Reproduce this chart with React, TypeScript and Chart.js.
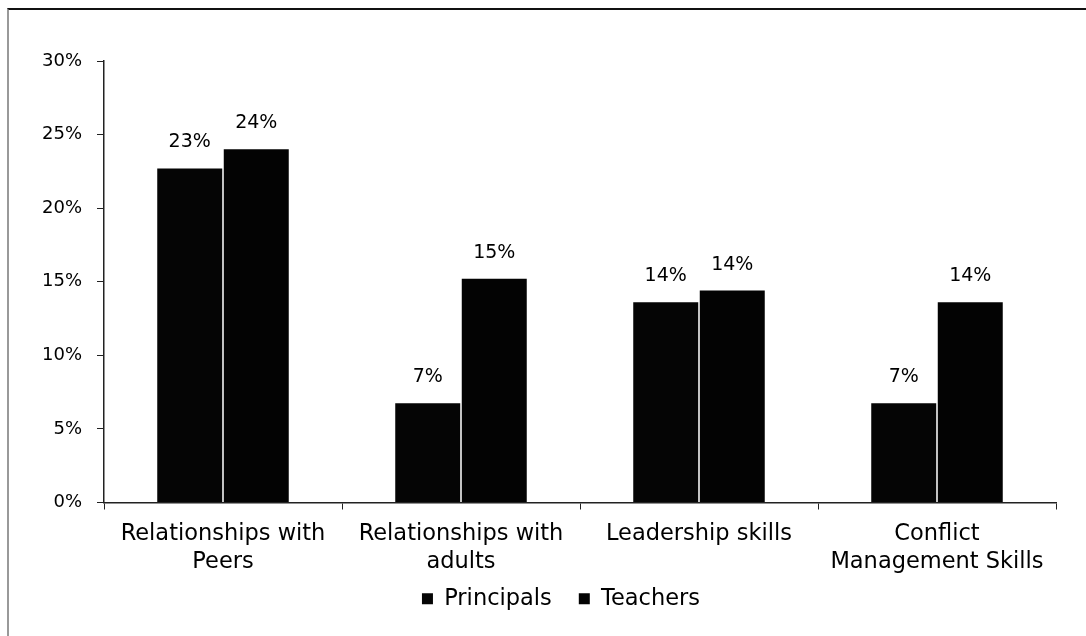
import React, { useEffect, useRef } from "react";
import { Chart, registerables } from "chart.js";

Chart.register(...registerables);

const categories: string[][] = [
  ["Relationships with", "Peers"],
  ["Relationships with", "adults"],
  ["Leadership skills"],
  ["Conflict", "Management Skills"],
];
const principals = [22.7, 6.75, 13.6, 6.75];
const teachers = [24.0, 15.2, 14.4, 13.6];
const principalLabels = ["23%", "7%", "14%", "7%"];
const teacherLabels = ["24%", "15%", "14%", "14%"];
const yTicks = [0, 5, 10, 15, 20, 25, 30];

const FONT = "'DejaVu Sans', sans-serif";

const valueLabels = {
  id: "valueLabels",
  afterDatasetsDraw(chart: any) {
    const ctx = chart.ctx;
    ctx.save();
    ctx.font = `19px ${FONT}`;
    ctx.fillStyle = "#000";
    ctx.textAlign = "center";
    ctx.textBaseline = "alphabetic";
    chart.data.datasets.forEach((ds: any, di: number) => {
      const meta = chart.getDatasetMeta(di);
      const labels = ds.valueLabels as string[];
      meta.data.forEach((bar: any, i: number) => {
        ctx.fillText(labels[i], bar.x, bar.y - 21);
      });
    });
    ctx.restore();
  },
};

// nudge the legend to where the reference places it
const legendShift = {
  id: "legendShift",
  afterLayout(chart: any) {
    const lg = chart.legend;
    if (!lg) return;
    const dx = 33;
    const dy = -16;
    lg.left += dx;
    lg.right += dx;
    lg.top += dy;
    lg.bottom += dy;
    if (lg.legendHitBoxes)
      lg.legendHitBoxes.forEach((h: any) => {
        h.left += dx;
        h.top += dy;
      });
  },
};

export default function App() {
  const ref = useRef<HTMLCanvasElement>(null);
  useEffect(() => {
    if (!ref.current) return;
    const chart = new Chart(ref.current, {
      type: "bar",
      data: {
        labels: categories,
        datasets: [
          {
            label: "Principals",
            data: principals,
            backgroundColor: "#050505",
            categoryPercentage: 0.559,
            barPercentage: 0.977,
            valueLabels: principalLabels,
          } as any,
          {
            label: "Teachers",
            data: teachers,
            backgroundColor: "#030303",
            categoryPercentage: 0.559,
            barPercentage: 0.977,
            valueLabels: teacherLabels,
          } as any,
        ],
      },
      options: {
        animation: false,
        responsive: false,
        maintainAspectRatio: false,
        layout: { padding: { left: 0, right: 30, top: 61, bottom: 0 } },
        plugins: {
          tooltip: { enabled: false },
          legend: {
            position: "bottom",
            labels: {
              boxWidth: 11,
              boxHeight: 11,
              color: "#000",
              font: { family: FONT, size: 22.5 },
              padding: 27,
            },
          },
        },
        scales: {
          x: {
            grid: {
              display: true,
              drawOnChartArea: false,
              drawTicks: true,
              tickLength: 7,
              color: "#222",
              offset: true,
            },
            border: { display: true, color: "#222", width: 1.5 },
            ticks: {
              color: "#000",
              font: { family: FONT, size: 22.5, lineHeight: 1.22 },
              padding: 11,
              maxRotation: 0,
              autoSkip: false,
            },
            afterFit: (s: any) => {
              s.height = 74;
            },
          },
          y: {
            min: 0,
            max: 30,
            afterBuildTicks: (s: any) => {
              s.ticks = yTicks.map((v) => ({ value: v }));
            },
            grid: {
              display: true,
              drawOnChartArea: false,
              drawTicks: true,
              tickLength: 7,
              color: "#222",
            },
            border: { display: true, color: "#222", width: 1.5 },
            ticks: {
              color: "#000",
              font: { family: FONT, size: 18 },
              padding: 15,
              callback: (v: any) => `${v}%`,
            },
            afterFit: (s: any) => {
              s.width = 104;
            },
          },
        },
      },
      plugins: [valueLabels, legendShift],
    });
    return () => chart.destroy();
  }, []);

  return (
    <div style={{ position: "fixed", left: 0, top: 0, width: 1086, height: 636, background: "#fff" }}>
      <canvas ref={ref} width={1086} height={636} style={{ position: "absolute", left: 0, top: 0 }} />
      <div
        style={{
          position: "absolute",
          left: 7,
          top: 8,
          width: 1079,
          height: 628,
          borderTop: "2px solid #111",
          borderLeft: "2px solid #999",
          boxSizing: "border-box",
          pointerEvents: "none",
        }}
      />
    </div>
  );
}
